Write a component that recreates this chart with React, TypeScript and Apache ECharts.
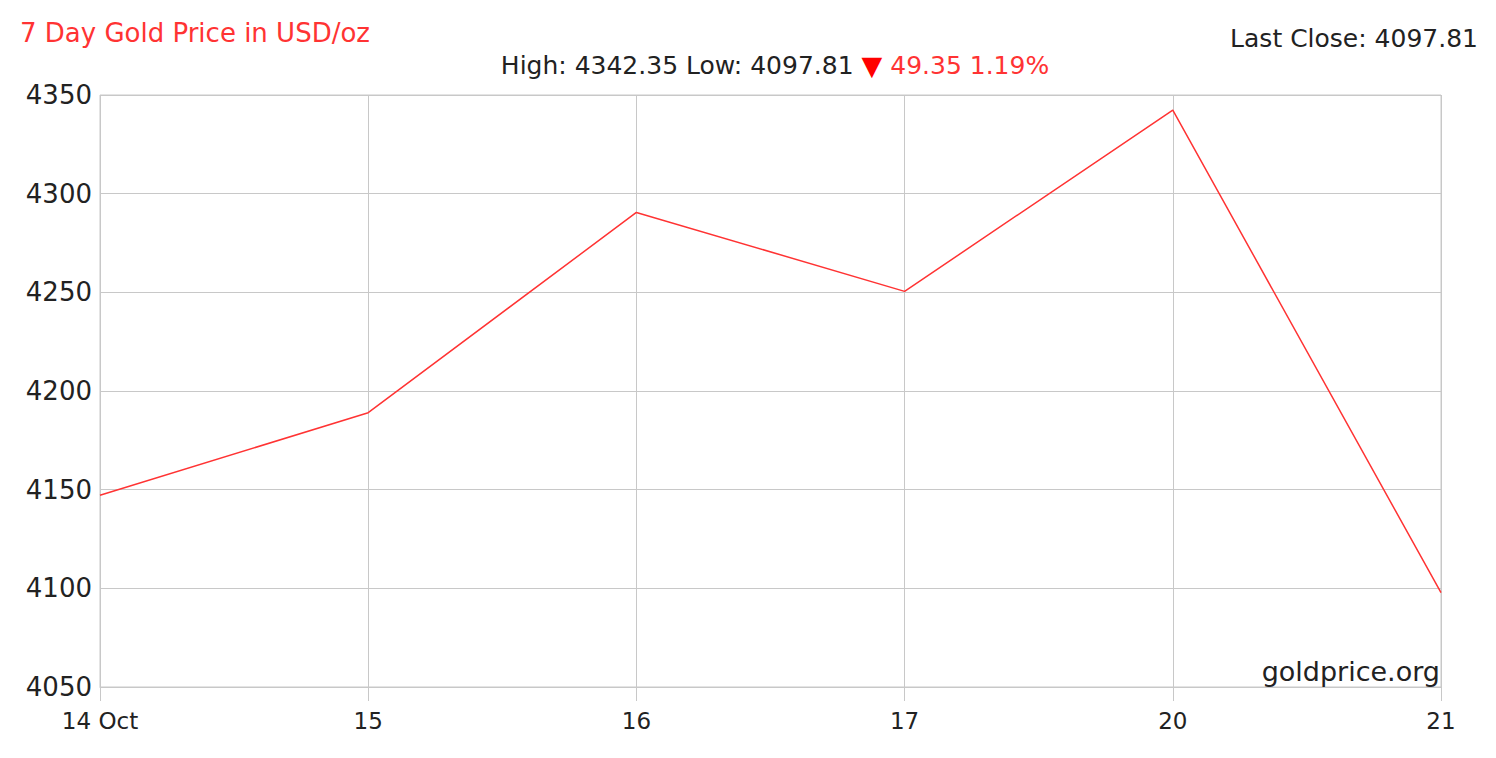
import React, { useEffect, useRef } from "react";
import * as echarts from "echarts";

const categories = ["14 Oct", "15", "16", "17", "20", "21"];
const prices = [4147.16, 4189.0, 4290.5, 4250.5, 4342.35, 4097.81];
const yTicks = { min: 4050, max: 4350, interval: 50 };
const titleText = "7 Day Gold Price in USD/oz";
const lastClose = "4097.81";
const high = "4342.35";
const low = "4097.81";
const change = "49.35";
const changePct = "1.19%";
const source = "goldprice.org";

const FONT = "DejaVu Sans";
const RED = "#ff3333";
const GRID = "#c8c8c8";

export default function App() {
  const ref = useRef<HTMLDivElement>(null);
  useEffect(() => {
    document.body.style.margin = "0";
    const chart = echarts.init(ref.current!, null, { renderer: "svg" });
    chart.setOption({
      animation: false,
      backgroundColor: "#ffffff",
      grid: {
        left: 100,
        right: 55,
        top: 95,
        bottom: 71,
        show: true,
        borderColor: GRID,
        borderWidth: 1,
      },
      xAxis: {
        type: "category",
        data: categories,
        boundaryGap: false,
        axisLine: { show: true, lineStyle: { color: GRID, width: 1 } },
        axisTick: { show: true, length: 14, lineStyle: { color: GRID } },
        axisLabel: { color: "#222", fontFamily: FONT, fontSize: 23, margin: 22 },
        splitLine: { show: true, lineStyle: { color: GRID, width: 1 } },
      },
      yAxis: {
        type: "value",
        min: yTicks.min,
        max: yTicks.max,
        interval: yTicks.interval,
        axisLine: { show: false },
        axisTick: { show: false },
        axisLabel: {
          color: "#222",
          fontFamily: FONT,
          fontSize: 26,
          margin: 8,
          formatter: (v: number) => String(v),
        },
        splitLine: { show: true, lineStyle: { color: GRID, width: 1 } },
      },
      series: [
        {
          type: "line",
          data: prices,
          showSymbol: false,
          symbol: "none",
          lineStyle: { color: RED, width: 1.5 },
        },
      ],
      graphic: [
        {
          type: "text",
          x: 20,
          y: 33,
          style: {
            text: titleText,
            fill: RED,
            font: `26px "${FONT}"`,
            verticalAlign: "middle",
          },
        },
        {
          type: "text",
          x: 1478,
          y: 38,
          style: {
            text: `Last Close: ${lastClose}`,
            fill: "#222",
            font: `25px "${FONT}"`,
            align: "right",
            verticalAlign: "middle",
          },
        },
        {
          type: "text",
          x: 775,
          y: 65,
          style: {
            text: `{k|High: ${high} Low: ${low} }{t|▼}{r| ${change} ${changePct}}`,
            align: "center",
            verticalAlign: "middle",
            rich: {
              k: { fill: "#222", fontFamily: FONT, fontSize: 25 },
              t: { fill: "#ff0000", fontFamily: FONT, fontSize: 27 },
              r: { fill: RED, fontFamily: FONT, fontSize: 25 },
            },
          },
        },
        {
          type: "text",
          x: 1440,
          y: 671,
          style: {
            text: source,
            fill: "#222",
            font: `27px "${FONT}"`,
            align: "right",
            verticalAlign: "middle",
          },
        },
      ],
    });
    return () => chart.dispose();
  }, []);
  return <div ref={ref} style={{ width: 1496, height: 758 }} />;
}
